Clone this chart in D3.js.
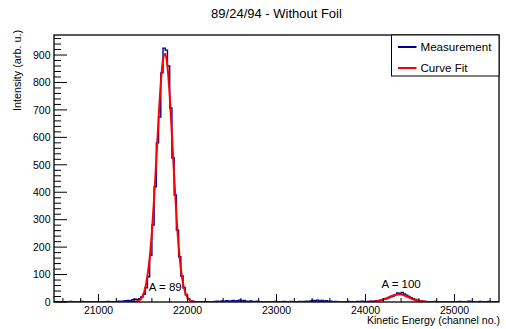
<!DOCTYPE html>
<html>
<head>
<meta charset="utf-8">
<title>89/24/94 - Without Foil</title>
<script src="https://d3js.org/d3.v7.min.js"></script>
<style>
  body { margin: 0; background: #fff; }
  text { font-family: "Liberation Sans", Arial, Helvetica, sans-serif; fill: #000; }
</style>
</head>
<body>
<div id="chart"></div>
<script>
// histogram: 25-channel bins starting at 20500
const binStart = 20500;
const binWidth = 25;
const measurement = [
  // 20500 - 21475
  0, 1, 0, 0, 1, 0, 1, 2, 1, 0, 1, 0, 2, 1, 0, 1, 0, 1, 1, 0,
  1, 0, 0, 1, 2, 1, 0, 1, 2, 3, 2, 4, 5, 6, 5, 8, 10, 9, 12, 18,
  // 21500 - 22475
  28, 52, 92, 170, 280, 420, 580, 674, 835, 925, 918, 860, 707, 525, 390, 262, 165, 95, 52, 26,
  12, 5, 2, 1, 0, 1, 0, 1, 0, 0, 1, 0, 2, 3, 1, 4, 2, 5, 4, 3,
  // 22500 - 23475
  6, 3, 5, 7, 4, 6, 3, 2, 4, 1, 2, 3, 1, 0, 1, 0, 1, 0, 1, 2,
  1, 0, 1, 2, 1, 0, 2, 1, 0, 1, 2, 1, 2, 3, 2, 4, 6, 5, 7, 4,
  // 23500 - 24475
  6, 3, 5, 2, 3, 1, 2, 1, 0, 1, 0, 1, 2, 1, 0, 1, 2, 1, 3, 2,
  1, 2, 3, 2, 4, 5, 6, 8, 10, 12, 15, 19, 22, 26, 33, 30, 35, 29, 25, 20,
  // 24500 - 25475
  16, 12, 9, 6, 4, 3, 2, 1, 1, 0, 1, 2, 0, 1, 0, 1, 0, 1, 0, 0,
  1, 0, 2, 1, 0, 1, 3, 2, 1, 0, 1, 2, 1, 0, 1, 2, 1, 0, 1, 0
];

// fitted curve
const fitX = [20500, 21375, 21400, 21425, 21450, 21475, 21500, 21525, 21550, 21575,
  21600, 21625, 21650, 21675, 21700, 21725, 21750, 21775, 21800, 21825,
  21850, 21875, 21900, 21925, 21950, 21975, 22000, 22025, 22050, 22075, 22100,
  24000, 24050, 24100, 24150, 24200, 24250, 24300, 24350, 24400, 24450,
  24500, 24550, 24600, 24650, 24700, 24750, 25500];
const fitY = [0, 0, 1, 2, 5, 11, 24, 50, 95, 160,
  255, 378, 520, 668, 797, 882, 905, 858, 752, 610,
  458, 319, 205, 122, 68, 35, 16, 7, 3, 1, 0,
  0, 0.6, 1.8, 4.5, 9.4, 16.2, 23.3, 27.6, 27.1, 22,
  14.8, 8.2, 3.8, 1.4, 0.5, 0, 0];

const peakLabels = ["A = 89", "A = 100"];
const peakPos = [[21750, 40], [24400, 50]];
const legendItems = ["Measurement", "Curve Fit"];
const legendColors = ["#000099", "#ff0000"];

const xTicks = [21000, 22000, 23000, 24000, 25000];
const yTicks = [0, 100, 200, 300, 400, 500, 600, 700, 800, 900];

const width = 506, height = 329;
const padL = 54, padR = 499, padT = 35, padB = 302;

const x = d3.scaleLinear().domain([20500, 25500]).range([padL, padR]);
const y = d3.scaleLinear().domain([0, 973]).range([padB, padT]);

const svg = d3.select("#chart").append("svg")
    .attr("width", width)
    .attr("height", height);

svg.append("rect").attr("width", width).attr("height", height).attr("fill", "#fff");

svg.append("defs").append("clipPath").attr("id", "clip")
  .append("rect").attr("x", padL).attr("y", padT)
  .attr("width", padR - padL).attr("height", padB - padT);

// title
svg.append("text")
    .attr("x", (padL + padR) / 2).attr("y", 17.5)
    .attr("text-anchor", "middle")
    .style("font-size", "13px")
    .text("89/24/94 - Without Foil");

// measurement histogram (step line)
const histPts = measurement.map((v, i) => [binStart + i * binWidth, v]);
histPts.push([binStart + measurement.length * binWidth, measurement[measurement.length - 1]]);

const plot = svg.append("g").attr("clip-path", "url(#clip)");

plot.append("path")
    .datum(histPts)
    .attr("fill", "none")
    .attr("stroke", legendColors[0])
    .attr("stroke-width", 1.4)
    .attr("d", d3.line().x(d => x(d[0])).y(d => y(d[1])).curve(d3.curveStepAfter));

// curve fit
plot.append("path")
    .datum(fitX.map((v, i) => [v, fitY[i]]))
    .attr("fill", "none")
    .attr("stroke", legendColors[1])
    .attr("stroke-width", 2)
    .attr("d", d3.line().x(d => x(d[0])).y(d => y(d[1])).curve(d3.curveMonotoneX));

// peak labels
svg.selectAll(".peak")
  .data(peakLabels)
  .enter().append("text")
    .attr("class", "peak")
    .attr("x", (d, i) => x(peakPos[i][0]))
    .attr("y", (d, i) => y(peakPos[i][1]))
    .attr("text-anchor", "middle")
    .style("font-size", "11.5px")
    .text(d => d);

// y axis (ticks inside the frame)
const yAxis = svg.append("g").attr("transform", `translate(${padL},0)`);
yAxis.selectAll(".minor")
  .data(d3.range(0, 973, 20))
  .enter().append("line")
    .attr("x1", 0).attr("x2", d => d % 100 === 0 ? 13 : 7)
    .attr("y1", d => y(d)).attr("y2", d => y(d))
    .attr("stroke", "#000").attr("stroke-width", 1);
yAxis.selectAll(".lab")
  .data(yTicks)
  .enter().append("text")
    .attr("x", -3.5).attr("y", d => y(d))
    .attr("dy", "0.36em")
    .attr("text-anchor", "end")
    .style("font-size", "10.5px")
    .text(d => d);

svg.append("text")
    .attr("transform", `translate(20.5,30) rotate(-90)`)
    .attr("text-anchor", "end")
    .style("font-size", "10.8px")
    .text("Intensity (arb. u.)");

// x axis
const xAxis = svg.append("g").attr("transform", `translate(0,${padB})`);
xAxis.selectAll(".tick")
  .data(d3.range(20600, 25500, 200))
  .enter().append("line")
    .attr("x1", d => x(d)).attr("x2", d => x(d))
    .attr("y1", 0).attr("y2", d => d % 1000 === 0 ? -8 : -4)
    .attr("stroke", "#000").attr("stroke-width", 1);
xAxis.selectAll(".lab")
  .data(xTicks)
  .enter().append("text")
    .attr("x", d => x(d)).attr("y", 12)
    .attr("text-anchor", "middle")
    .style("font-size", "10.5px")
    .text(d => d);

svg.append("text")
    .attr("x", 500).attr("y", 324)
    .attr("text-anchor", "end")
    .style("font-size", "10.6px")
    .text("Kinetic Energy (channel no.)");

// frame
svg.append("rect")
    .attr("x", padL).attr("y", padT)
    .attr("width", padR - padL).attr("height", padB - padT)
    .attr("fill", "none").attr("stroke", "#000").attr("stroke-width", 1.3);

// legend
const leg = svg.append("g");
leg.append("rect")
    .attr("x", 391.5).attr("y", padT)
    .attr("width", padR - 391.5).attr("height", 41)
    .attr("fill", "#fff").attr("stroke", "#000").attr("stroke-width", 1);
legendItems.forEach((name, i) => {
  const ly = 47 + i * 21;
  leg.append("line")
      .attr("x1", 398).attr("x2", 416.5)
      .attr("y1", ly).attr("y2", ly)
      .attr("stroke", legendColors[i]).attr("stroke-width", 2);
  leg.append("text")
      .attr("x", 420.5).attr("y", ly + 4)
      .style("font-size", "11.6px")
      .text(name);
});
</script>
</body>
</html>
